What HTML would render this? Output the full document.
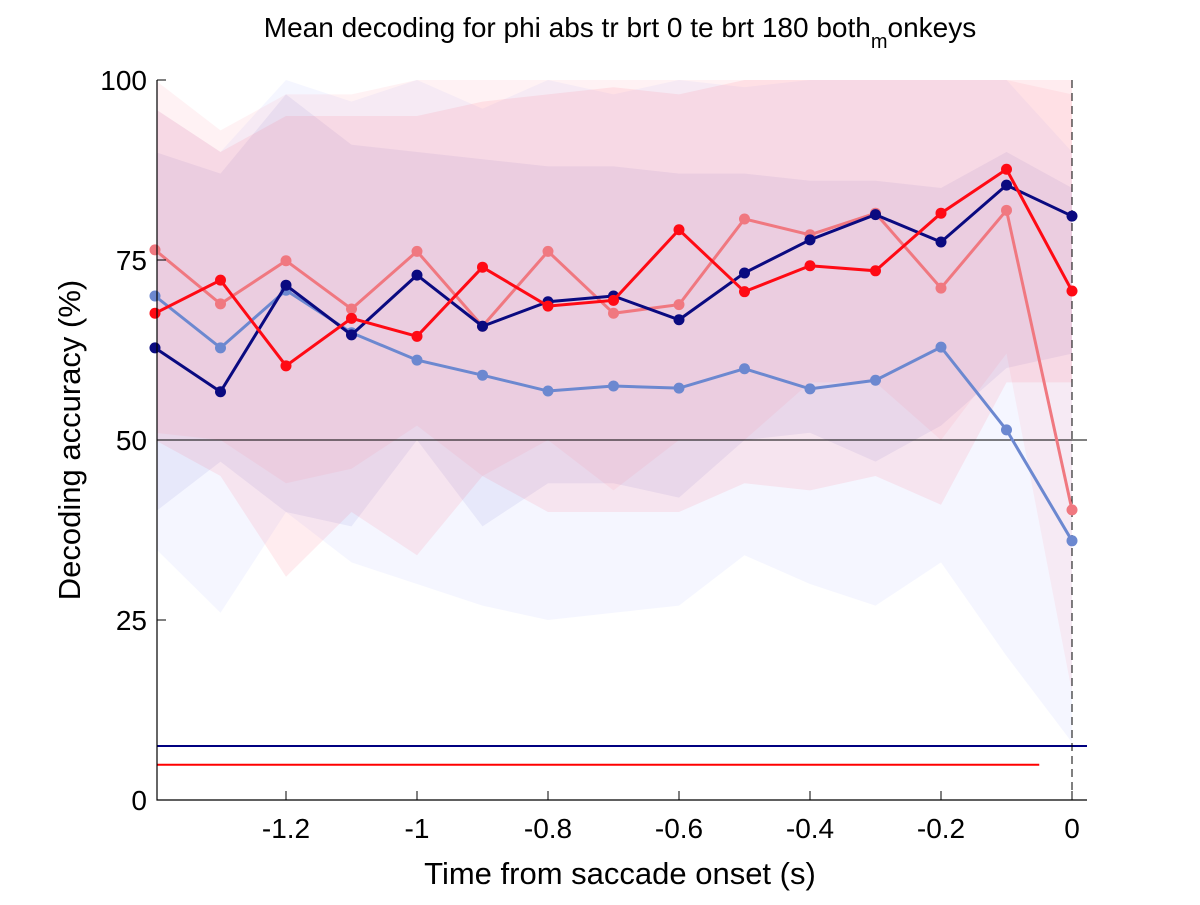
<!DOCTYPE html>
<html><head><meta charset="utf-8"><style>
body{margin:0;background:#fff;width:1200px;height:900px;overflow:hidden;font-family:"Liberation Sans",sans-serif}
</style></head><body>
<svg id="chart" width="1200" height="900" xmlns="http://www.w3.org/2000/svg" font-family="Liberation Sans, sans-serif">
<text x="620" y="37" font-size="28" text-anchor="middle">Mean decoding for phi abs tr brt 0 te brt 180  both<tspan font-size="20" dy="11">m</tspan><tspan dy="-11">onkeys</tspan></text>
<g id="plot"></g>
<text x="620" y="884" font-size="31" text-anchor="middle">Time from saccade onset (s)</text>
<text transform="translate(80,440) rotate(-90)" font-size="31" text-anchor="middle">Decoding accuracy (%)</text>
</svg>
<script>
const times=[-1.4,-1.3,-1.2,-1.1,-1.0,-0.9,-0.8,-0.7,-0.6,-0.5,-0.4,-0.3,-0.2,-0.1,0];
const navy=[62.8,56.7,71.5,64.6,72.9,65.8,69.2,70,66.7,73.2,77.8,81.3,77.5,85.4,81.1];
const lightBlue=[70,62.8,70.8,64.9,61.1,59,56.8,57.5,57.2,59.9,57.1,58.3,62.9,51.4,36];
const red=[67.6,72.2,60.3,66.9,64.4,74,68.6,69.4,79.2,70.6,74.2,73.5,81.5,87.6,70.7];
const pink=[76.4,68.9,74.9,68.2,76.2,65.8,76.2,67.6,68.8,80.7,78.5,81.5,71.1,81.9,40.3];
const navyHi=[90,87,98,91,90,89,88,88,87,87,86,86,85,90,85];
const navyLo=[40,47,40,38,50,38,44,44,42,50,51,47,52,60,62];
const lightBlueHi=[96,90,100,97,100,96,100,98,100,99,100,100,100,100,90];
const lightBlueLo=[35,26,40,33,30,27,25,26,27,34,30,27,33,20,8];
const redHi=[96,90,95,95,95,97,98,99,98,100,100,100,100,100,100];
const redLo=[50,45,31,40,34,45,40,40,40,44,43,45,41,58,58];
const pinkHi=[100,93,98,98,100,100,100,100,100,100,100,100,100,100,98];
const pinkLo=[51,50,44,46,52,45,50,43,50,50,58,58,50,62,15];
const yTicks=[0,25,50,75,100];
const xTicks=[-1.2,-1,-0.8,-0.6,-0.4,-0.2,0];
const xTickLabels=["-1.2","-1","-0.8","-0.6","-0.4","-0.2","0"];
const sigNavy=7.5, sigRed=4.9, sigRedEnd=-0.05, chance=50;

const X=t=>1072+t*655, Y=v=>800-v*7.2;
const L=157,R=1087,T=80,B=800;
const g=document.getElementById('plot');
const NS="http://www.w3.org/2000/svg";
function mk(tag,attrs,parent){const e=document.createElementNS(NS,tag);for(const k in attrs)e.setAttribute(k,attrs[k]);(parent||g).appendChild(e);return e;}
const defs=mk('defs',{});
const cp=mk('clipPath',{id:'clip'},defs);mk('rect',{x:L,y:T,width:R-L,height:B-T},cp);
const bands=mk('g',{'clip-path':'url(#clip)'});
function band(hi,lo,color,op,name){
  let d=times.map((t,i)=>(i?'L':'M')+X(t)+','+Y(Math.min(hi[i],105))).join('');
  for(let i=times.length-1;i>=0;i--)d+='L'+X(times[i])+','+Y(lo[i]);
  const p=mk('path',{d:d+'Z',fill:color,'fill-opacity':op},bands);
  
  
}
band(lightBlueHi,lightBlueLo,'#8090ff',0.08,'light-blue-band');
band(navyHi,navyLo,'#7070d0',0.1,'navy-band');
band(pinkHi,pinkLo,'#ff8090',0.1,'pink-band');
band(redHi,redLo,'#ff4060',0.1,'red-band');
let e=mk('line',{x1:L,x2:R,y1:Y(chance),y2:Y(chance),stroke:'#000','stroke-width':1});


e=mk('line',{x1:L,x2:R,y1:Y(sigNavy),y2:Y(sigNavy),stroke:'#000080','stroke-width':2});


e=mk('line',{x1:L,x2:X(sigRedEnd),y1:Y(sigRed),y2:Y(sigRed),stroke:'#ff0000','stroke-width':2});


e=mk('line',{x1:X(0),x2:X(0),y1:T,y2:B,stroke:'#000','stroke-width':1,'stroke-dasharray':'8,5'});


function series(vals,color,name){
  const pts=times.map((t,i)=>X(t)+','+Y(vals[i])).join(' ');
  const pl=mk('polyline',{points:pts,fill:'none',stroke:color,'stroke-width':3});
  
  
  times.forEach((t,i)=>{const c=mk('circle',{cx:X(t),cy:Y(vals[i]),r:5.5,fill:color});
    
    });
}
series(lightBlue,'#6c88d0','light-blue');
series(pink,'#f07880','pink');
series(navy,'#0a0a80','navy');
series(red,'#ff0a14','red');
e=mk('path',{d:`M${L},${T}V${B}H${R}`,fill:'none',stroke:'#000','stroke-width':1.2});


yTicks.forEach(v=>{mk('line',{x1:L,x2:L+9,y1:Y(v),y2:Y(v),stroke:'#000'});
  const t=mk('text',{x:L-10,y:Y(v)+10,'font-size':28,'text-anchor':'end'});t.textContent=v;
  
  });
xTicks.forEach((v,i)=>{mk('line',{x1:X(v),x2:X(v),y1:B,y2:B-9,stroke:'#000'});
  const t=mk('text',{x:X(v),y:B+38,'font-size':28,'text-anchor':'middle'});t.textContent=xTickLabels[i];
  
  });
</script>
</body></html>
